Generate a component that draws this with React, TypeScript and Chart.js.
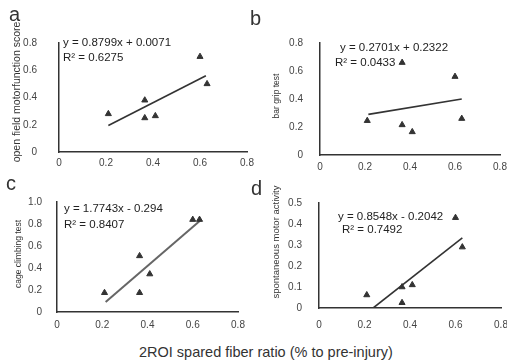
import React, { useEffect, useRef } from 'react';
import { Chart, registerables } from 'chart.js';

Chart.register(...registerables);

// Shared x values: 2ROI spared fiber ratio
const sparedRatio = [0.21, 0.365, 0.365, 0.41, 0.6, 0.63];

// Panel series
const openFieldScore = [0.28, 0.38, 0.25, 0.265, 0.7, 0.5];
const barGripTest = [0.245, 0.66, 0.215, 0.165, 0.56, 0.26];
const cageClimbingTest = [0.175, 0.51, 0.175, 0.345, 0.84, 0.84];
const spontaneousActivity = [0.062, 0.1, 0.025, 0.11, 0.43, 0.29];

// Trend line endpoints
const trendAX = [0.21, 0.625];
const trendAY = [0.195, 0.56];
const trendBX = [0.215, 0.63];
const trendBY = [0.29, 0.4];
const trendCX = [0.215, 0.632];
const trendCY = [0.09, 0.83];
const trendDX = [0.238, 0.63];
const trendDY = [0.0, 0.334];

// Tick values
const xTicks = [0, 0.2, 0.4, 0.6, 0.8];
const yTicksA = [0, 0.2, 0.4, 0.6, 0.8];
const yTicksB = [0, 0.2, 0.4, 0.6, 0.8];
const yTicksC = [0, 0.2, 0.4, 0.6, 0.8, 1.0];
const yTicksD = [0, 0.1, 0.2, 0.3, 0.4, 0.5];

// Texts
const panelLetters = ['a', 'b', 'c', 'd'];
const yTitles = [
  'open field motorfunction score',
  'bar grip test',
  'cage climbing test',
  'spontaneous motor activity',
];
const equations = [
  'y = 0.8799x + 0.0071',
  'y = 0.2701x + 0.2322',
  'y = 1.7743x - 0.294',
  'y = 0.8548x - 0.2042',
];
const rSquared = ['R² = 0.6275', 'R² = 0.0433', 'R² = 0.8407', 'R² = 0.7492'];
const xAxisTitle = '2ROI spared fiber ratio (% to pre-injury)';

const FONT = '"Liberation Sans", Arial, Helvetica, sans-serif';

type PanelCfg = {
  left: number;
  top: number;
  w: number;
  h: number;
  ys: number[];
  trendX: number[];
  trendY: number[];
  yTicks: number[];
  yWidth: number;
  xHeight: number;
  padTop: number;
  padRight: number;
  yTickLen: number;
  xTickLen: number;
  lineColor: string;
  lineWidth: number;
};

const fmt = (v: number) => (v === 0 ? '0' : Number(v).toFixed(1));

const panels: PanelCfg[] = [
  {
    left: 0, top: 0, w: 257, h: 175,
    ys: openFieldScore, trendX: trendAX, trendY: trendAY, yTicks: yTicksA,
    yWidth: 59, xHeight: 23, padTop: 43, padRight: 10, yTickLen: 22, xTickLen: 5,
    lineColor: '#333', lineWidth: 1.6,
  },
  {
    left: 258, top: 0, w: 270, h: 175,
    ys: barGripTest, trendX: trendBX, trendY: trendBY, yTicks: yTicksB,
    yWidth: 62, xHeight: 20, padTop: 43, padRight: 28, yTickLen: 17, xTickLen: 6,
    lineColor: '#333', lineWidth: 1.6,
  },
  {
    left: 0, top: 180, w: 257, h: 155,
    ys: cageClimbingTest, trendX: trendCX, trendY: trendCY, yTicks: yTicksC,
    yWidth: 57, xHeight: 23, padTop: 22, padRight: 19, yTickLen: 15, xTickLen: 7,
    lineColor: '#666', lineWidth: 2,
  },
  {
    left: 258, top: 180, w: 270, h: 155,
    ys: spontaneousActivity, trendX: trendDX, trendY: trendDY, yTicks: yTicksD,
    yWidth: 61, xHeight: 27, padTop: 23, padRight: 27, yTickLen: 17, xTickLen: 11,
    lineColor: '#333', lineWidth: 1.6,
  },
];

function Panel({ cfg }: { cfg: PanelCfg }) {
  const ref = useRef<HTMLCanvasElement>(null);
  useEffect(() => {
    const canvas = ref.current;
    if (!canvas) return;
    const tickFont = { family: FONT, size: 10 };
    const border = { display: true, color: '#333', width: 1.5, dash: [1.5, 1] };
    const chart = new Chart(canvas, {
      type: 'scatter',
      data: {
        datasets: [
          {
            type: 'scatter',
            data: sparedRatio.map((x, i) => ({ x, y: cfg.ys[i] })),
            pointStyle: 'triangle',
            pointRadius: 3.5,
            backgroundColor: '#333',
            borderColor: '#333',
            borderWidth: 1,
          },
          {
            type: 'line',
            data: cfg.trendX.map((x, i) => ({ x, y: cfg.trendY[i] })),
            borderColor: cfg.lineColor,
            borderWidth: cfg.lineWidth,
            pointRadius: 0,
            fill: false,
            showLine: true,
          },
        ],
      } as any,
      options: {
        responsive: false,
        animation: false,
        layout: { padding: { left: 0, top: cfg.padTop, right: cfg.padRight, bottom: 0 } },
        plugins: { legend: { display: false }, tooltip: { enabled: false } },
        scales: {
          x: {
            type: 'linear',
            min: 0,
            max: 0.8,
            afterBuildTicks: (s: any) => {
              s.ticks = xTicks.map((v) => ({ value: v }));
            },
            afterFit: (s: any) => {
              s.height = cfg.xHeight;
            },
            ticks: {
              padding: 0,
              autoSkip: false,
              maxRotation: 0,
              font: tickFont,
              color: '#444',
              callback: (v: any) => fmt(Number(v)),
            },
            grid: { display: false, drawTicks: true, tickLength: cfg.xTickLen },
            border,
          },
          y: {
            type: 'linear',
            min: 0,
            max: cfg.yTicks[cfg.yTicks.length - 1],
            afterBuildTicks: (s: any) => {
              s.ticks = cfg.yTicks.map((v) => ({ value: v }));
            },
            afterFit: (s: any) => {
              s.width = cfg.yWidth;
            },
            ticks: {
              padding: 0,
              autoSkip: false,
              font: tickFont,
              color: '#444',
              callback: (v: any) => fmt(Number(v)),
            },
            grid: { display: false, drawTicks: true, tickLength: cfg.yTickLen },
            border,
          },
        },
      } as any,
    });
    return () => chart.destroy();
  }, [cfg]);
  return (
    <canvas
      ref={ref}
      width={cfg.w}
      height={cfg.h}
      style={{ position: 'absolute', left: cfg.left, top: cfg.top, width: cfg.w, height: cfg.h }}
    />
  );
}

const letterPos = [
  { left: 9, top: 4 },
  { left: 250, top: 8 },
  { left: 6, top: 173 },
  { left: 251, top: 178 },
];
const yTitlePos = [
  { cx: 16, cy: 92, size: 10.5 },
  { cx: 276, cy: 96, size: 8.5 },
  { cx: 17.5, cy: 254, size: 8.5 },
  { cx: 276, cy: 242, size: 9.5 },
];
const eqPos = [
  { left: 63, top: 37.4, rl: 63, rt: 52.4 },
  { left: 340, top: 42.4, rl: 335, rt: 57.4 },
  { left: 64, top: 203.4, rl: 64, rt: 219.4 },
  { left: 338, top: 211.4, rl: 342, rt: 224.4 },
];

export default function App() {
  return (
    <div
      style={{
        position: 'absolute',
        left: 0,
        top: 0,
        width: 507,
        height: 363,
        overflow: 'hidden',
        background: '#fff',
        fontFamily: FONT,
        color: '#333',
      }}
    >
      {panels.map((p, i) => (
        <Panel key={i} cfg={p} />
      ))}
      {panelLetters.map((l, i) => (
        <div
          key={'l' + i}
          style={{
            position: 'absolute',
            left: letterPos[i].left,
            top: letterPos[i].top,
            fontSize: 20,
            lineHeight: '20px',
            color: '#333',
          }}
        >
          {l}
        </div>
      ))}
      {yTitles.map((t, i) => (
        <div
          key={'t' + i}
          style={{
            position: 'absolute',
            left: yTitlePos[i].cx,
            top: yTitlePos[i].cy,
            fontSize: yTitlePos[i].size,
            lineHeight: 1,
            whiteSpace: 'nowrap',
            transform: 'translate(-50%, -50%) rotate(-90deg)',
            color: '#333',
          }}
        >
          {t}
        </div>
      ))}
      {equations.map((e, i) => (
        <React.Fragment key={'e' + i}>
          <div
            style={{
              position: 'absolute',
              left: eqPos[i].left,
              top: eqPos[i].top,
              fontSize: 11.5,
              lineHeight: 1,
              whiteSpace: 'nowrap',
              color: '#222',
            }}
          >
            {e}
          </div>
          <div
            style={{
              position: 'absolute',
              left: eqPos[i].rl,
              top: eqPos[i].rt,
              fontSize: 11.5,
              lineHeight: 1,
              whiteSpace: 'nowrap',
              color: '#222',
            }}
          >
            {rSquared[i]}
          </div>
        </React.Fragment>
      ))}
      <div
        style={{
          position: 'absolute',
          left: 139,
          top: 345,
          fontSize: 14.5,
          lineHeight: 1,
          whiteSpace: 'nowrap',
          color: '#333',
        }}
      >
        {xAxisTitle}
      </div>
    </div>
  );
}
